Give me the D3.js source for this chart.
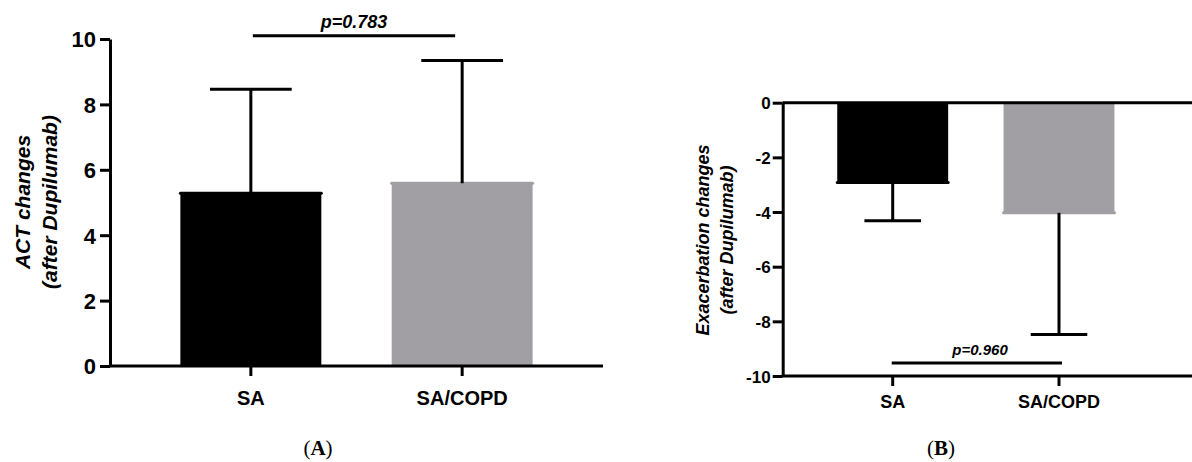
<!DOCTYPE html>
<html><head><meta charset="utf-8">
<script src="https://cdn.jsdelivr.net/npm/d3@7"></script>
<style>
html,body{margin:0;padding:0;background:#fff;}
svg{display:block;}
text{font-family:"Liberation Sans",Arial,sans-serif;font-weight:bold;fill:#000;}
</style></head>
<body>
<svg id="chart" width="1192" height="462"></svg>
<script>
const categories = ["SA", "SA/COPD"];
const barColors = ["#000000", "#a19fa4"];
// Panel A: ACT changes (mean, SD)
const actMeans = [5.28, 5.59];
const actSD = [3.18, 3.75];
const actTicks = [0, 2, 4, 6, 8, 10];
const actP = "p=0.783";
// Panel B: Exacerbation changes (mean, SD)
const exMeans = [-2.92, -4.03];
const exSD = [1.40, 4.45];
const exTicks = [0, -2, -4, -6, -8, -10];
const exP = "p=0.960";

const svg = d3.select("#chart");
const LW = 3;

function panel(cfg) {
  const g = svg.append("g");
  const x = d3.scaleBand().domain(categories).range([cfg.x0, cfg.x1])
    .paddingInner(0.333).paddingOuter(cfg.po);
  const y = d3.scaleLinear().domain(cfg.domain).range([cfg.yBottom, cfg.yTop]);
  const base = y(0);

  // bars
  categories.forEach((c, i) => {
    const m = cfg.means[i];
    const yt = Math.min(y(m), base), yb = Math.max(y(m), base);
    g.append("rect").attr("x", x(c)).attr("y", yt).attr("width", x.bandwidth())
      .attr("height", yb - yt).attr("fill", barColors[i]);
    g.append("line").attr("x1", x(c)).attr("x2", x(c) + x.bandwidth())
      .attr("y1", y(m)).attr("y2", y(m)).attr("stroke", barColors[i])
      .attr("stroke-width", LW).attr("stroke-linecap", "round");
    // error bar (one-sided)
    const cx = x(c) + x.bandwidth() / 2;
    const e = m + Math.sign(m) * cfg.sd[i];
    g.append("line").attr("x1", cx).attr("x2", cx).attr("y1", y(m)).attr("y2", y(e))
      .attr("stroke", "#000").attr("stroke-width", LW);
    const hw = x.bandwidth() * cfg.cap / 2;
    g.append("line").attr("x1", cx - hw).attr("x2", cx + hw).attr("y1", y(e)).attr("y2", y(e))
      .attr("stroke", "#000").attr("stroke-width", LW);
  });

  // y axis
  const ya = g.append("g").attr("transform", `translate(${cfg.x0},0)`)
    .call(d3.axisLeft(y).tickValues(cfg.ticks).tickFormat(d => String(d))
      .tickSize(10).tickPadding(cfg.yPad).tickSizeOuter(0));
  ya.selectAll("path,line").attr("stroke", "#000").attr("stroke-width", LW);
  ya.selectAll("text").style("font-size", cfg.yFont + "px").attr("dy", "0.36em");

  // x axis (at bottom of plot area)
  const xa = g.append("g").attr("transform", `translate(0,${cfg.yBottom})`)
    .call(d3.axisBottom(x).tickSize(10).tickPadding(cfg.xPad).tickSizeOuter(0));
  xa.select("path").remove();
  xa.selectAll("line").attr("stroke", "#000").attr("stroke-width", LW);
  xa.selectAll("text").style("font-size", cfg.xFont + "px");
  g.append("line").attr("x1", cfg.x0).attr("x2", cfg.xEnd).attr("y1", cfg.yBottom).attr("y2", cfg.yBottom)
    .attr("stroke", "#000").attr("stroke-width", LW);
  if (cfg.zeroLine) {
    g.append("line").attr("x1", cfg.x0).attr("x2", cfg.xEnd).attr("y1", base).attr("y2", base)
      .attr("stroke", "#000").attr("stroke-width", LW);
  }

  // y label
  const lab = g.append("text").attr("transform", `translate(${cfg.labX},${cfg.labY}) rotate(-90)`)
    .attr("text-anchor", "middle").style("font-style", "italic").style("font-size", cfg.labFont + "px");
  lab.append("tspan").attr("x", 0).attr("y", 0).text(cfg.lab1);
  lab.append("tspan").attr("x", 0).attr("y", cfg.labGap).text(cfg.lab2);

  // significance bar
  const c0 = x(categories[0]) + x.bandwidth() / 2, c1 = x(categories[1]) + x.bandwidth() / 2;
  g.append("line").attr("x1", c0 + cfg.sigIn[0]).attr("x2", c1 + cfg.sigIn[1])
    .attr("y1", cfg.sigY).attr("y2", cfg.sigY).attr("stroke", "#000").attr("stroke-width", LW);
  g.append("text").attr("x", cfg.pX).attr("y", cfg.pY).attr("text-anchor", "middle")
    .style("font-style", "italic").style("font-size", cfg.pFont + "px").text(cfg.p);

  // panel label
  const pl = g.append("text").attr("x", cfg.plX).attr("y", 455).attr("text-anchor", "middle")
    .style("font-family", "'Liberation Serif','Times New Roman',serif").style("font-size", "21px");
  pl.append("tspan").style("font-weight", "normal").text("(");
  pl.append("tspan").style("font-weight", "bold").text(cfg.plLetter);
  pl.append("tspan").style("font-weight", "normal").text(")");
}

panel({
  x0: 110, x1: 603, xEnd: 603, po: 0.333, domain: [0, 10], yBottom: 366, yTop: 39,
  means: actMeans, sd: actSD, ticks: actTicks, cap: 0.58,
  yFont: 22, yPad: 4, xFont: 20, xPad: 15, zeroLine: false,
  labX: 30, labY: 202, labFont: 21, labGap: 27,
  lab1: "ACT changes", lab2: "(after Dupilumab)",
  sigY: 35.7, sigIn: [2, -7], pX: 354, pY: 28, pFont: 18, p: actP,
  plX: 318, plLetter: "A"
});

panel({
  x0: 782.7, x1: 1169, xEnd: 1192, po: 0.328, domain: [-10, 0], yBottom: 376, yTop: 102.7,
  means: exMeans, sd: exSD, ticks: exTicks, cap: 0.51,
  yFont: 17, yPad: 2, xFont: 18, xPad: 9, zeroLine: true,
  labX: 709, labY: 240, labFont: 18, labGap: 24,
  lab1: "Exacerbation changes", lab2: "(after Dupilumab)",
  sigY: 363, sigIn: [-1, 3], pX: 980, pY: 355, pFont: 15, p: exP,
  plX: 941, plLetter: "B"
});
</script>
</body></html>
